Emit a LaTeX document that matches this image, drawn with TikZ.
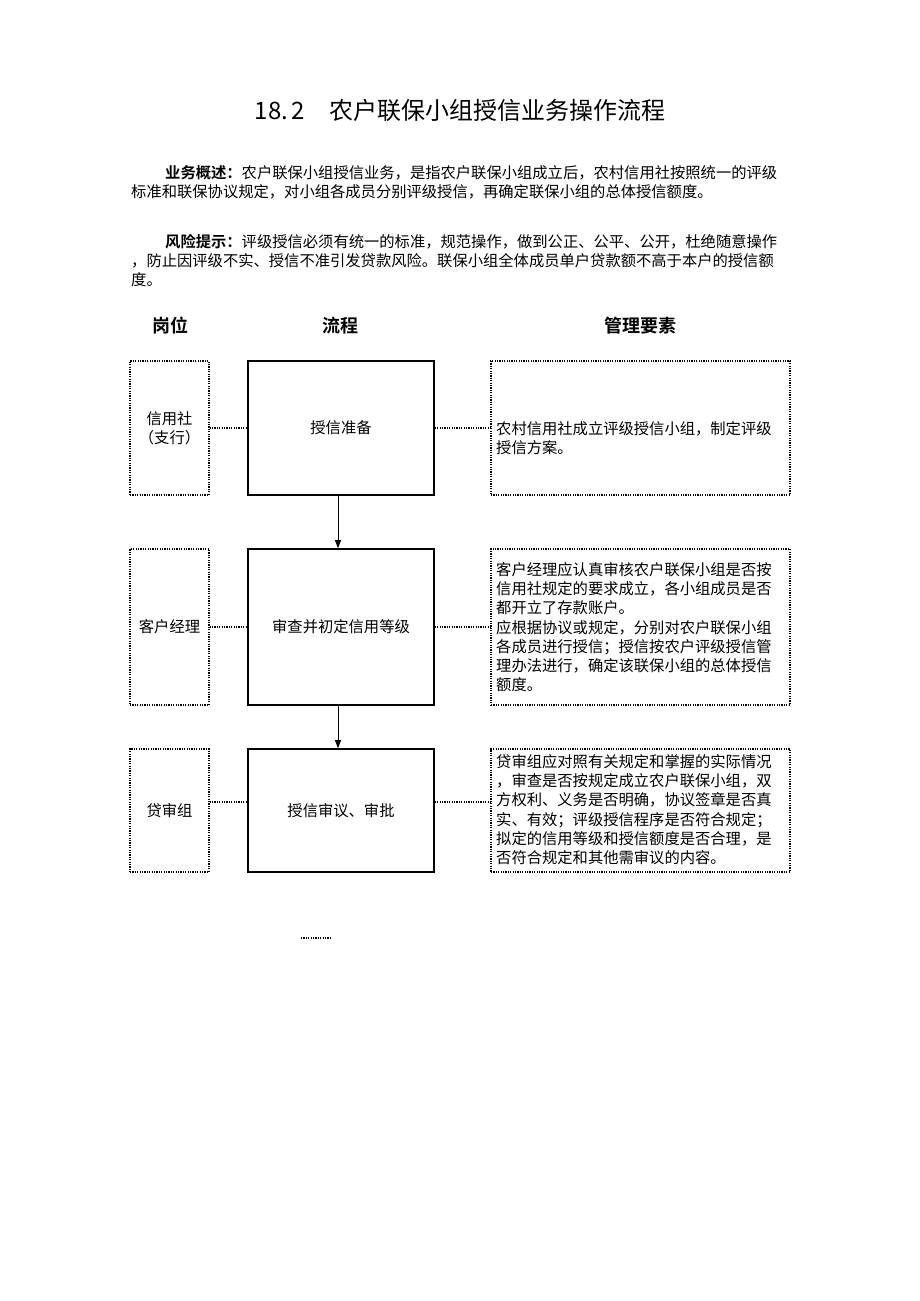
\documentclass[tikz,border=0pt]{standalone}
\usepackage{fontspec}
\setmainfont{Noto Sans CJK SC}[BoldFont={Noto Sans CJK SC Bold}]
\usetikzlibrary{arrows.meta}

\tikzset{
  txt/.style={font=\fontsize{15.3}{19.3}\selectfont, inner sep=0pt},
  post/.style={draw, line width=1.2pt, dash pattern=on 1.2pt off 1.2pt, minimum width=79pt, txt, align=center},
  proc/.style={draw, line width=1.6pt, minimum width=186pt, txt},
  note/.style={draw, line width=1.2pt, dash pattern=on 1.2pt off 1.2pt, minimum width=299pt, inner sep=0pt},
  notetext/.style={txt, align=left, anchor=north west},
  link/.style={line width=1.2pt, dash pattern=on 1.2pt off 1.2pt},
  head/.style={font=\fontsize{18}{18}\selectfont\bfseries},
}

\begin{document}
\begin{tikzpicture}[x=1pt, y=-1pt]
\useasboundingbox (0,0) rectangle (920,1301);

\node[font=\fontsize{24}{24}\selectfont] (title) at (460,110) {18.\,2　农户联保小组授信业务操作流程};

\node[txt, align=left, anchor=north west] (intro) at (131,165)
  {\hspace*{34pt}\textbf{业务概述：}农户联保小组授信业务，是指农户联保小组成立后，农村信用社按照统一的评级\\
   标准和联保协议规定，对小组各成员分别评级授信，再确定联保小组的总体授信额度。};
\node[txt, align=left, anchor=north west] (risk) at (131,234)
  {\hspace*{34pt}\textbf{风险提示：}评级授信必须有统一的标准，规范操作，做到公正、公平、公开，杜绝随意操作\\
   ，防止因评级不实、授信不准引发贷款风险。联保小组全体成员单户贷款额不高于本户的授信额\\
   度。};

\node[head] (hpost) at (170,326) {岗位};
\node[head] (hflow) at (340,326) {流程};
\node[head] (hnote) at (640,326) {管理要素};

% row 1
\node[post, minimum height=134pt] (post1) at (169.5,428) {信用社\\（支行）};
\node[proc, minimum height=134pt] (proc1) at (341,428) {授信准备};
\node[note, minimum height=134pt] (note1) at (640.5,428) {};
\node[notetext] (text1) at (496,421)
  {农村信用社成立评级授信小组，制定评级\\授信方案。};

% row 2
\node[post, minimum height=156pt] (post2) at (169.5,627) {客户经理};
\node[proc, minimum height=156pt] (proc2) at (341,627) {审查并初定信用等级};
\node[note, minimum height=156pt] (note2) at (640.5,627) {};
\node[notetext] (text2) at (496,562)
  {客户经理应认真审核农户联保小组是否按\\信用社规定的要求成立，各小组成员是否\\都开立了存款账户。\\
   应根据协议或规定，分别对农户联保小组\\各成员进行授信；授信按农户评级授信管\\理办法进行，确定该联保小组的总体授信\\额度。};

% row 3
\node[post, minimum height=123pt] (post3) at (169.5,810.5) {贷审组};
\node[proc, minimum height=123pt] (proc3) at (341,810.5) {授信审议、审批};
\node[note, minimum height=123pt] (note3) at (640.5,810.5) {};
\node[notetext] (text3) at (496,754)
  {贷审组应对照有关规定和掌握的实际情况\\，审查是否按规定成立农户联保小组，双\\方权利、义务是否明确，协议签章是否真\\
   实、有效；评级授信程序是否符合规定；\\拟定的信用等级和授信额度是否合理，是\\否符合规定和其他需审议的内容。};

% connectors
\draw[link] (post1.east) -- (proc1.west);
\draw[link] (proc1.east) -- (note1.west);
\draw[link] (post2.east) -- (proc2.west);
\draw[link] (proc2.east) -- (note2.west);
\draw[link] ([yshift=8.5pt]post3.east) -- ([yshift=8.5pt]proc3.west);
\draw[link] ([yshift=8.5pt]proc3.east) -- ([yshift=8.5pt]note3.west);

\draw[line width=1pt, -{Triangle[length=8pt,width=6pt]}] ([xshift=-3pt]proc1.south) -- ([xshift=-3pt]proc2.north);
\draw[line width=1pt, -{Triangle[length=8pt,width=6pt]}] ([xshift=-3pt]proc2.south) -- ([xshift=-3pt]proc3.north);

\coordinate (dotl) at (301,938);
\coordinate (dotr) at (330,938);
\draw[link] (dotl) -- (dotr);
\end{tikzpicture}
\end{document}
